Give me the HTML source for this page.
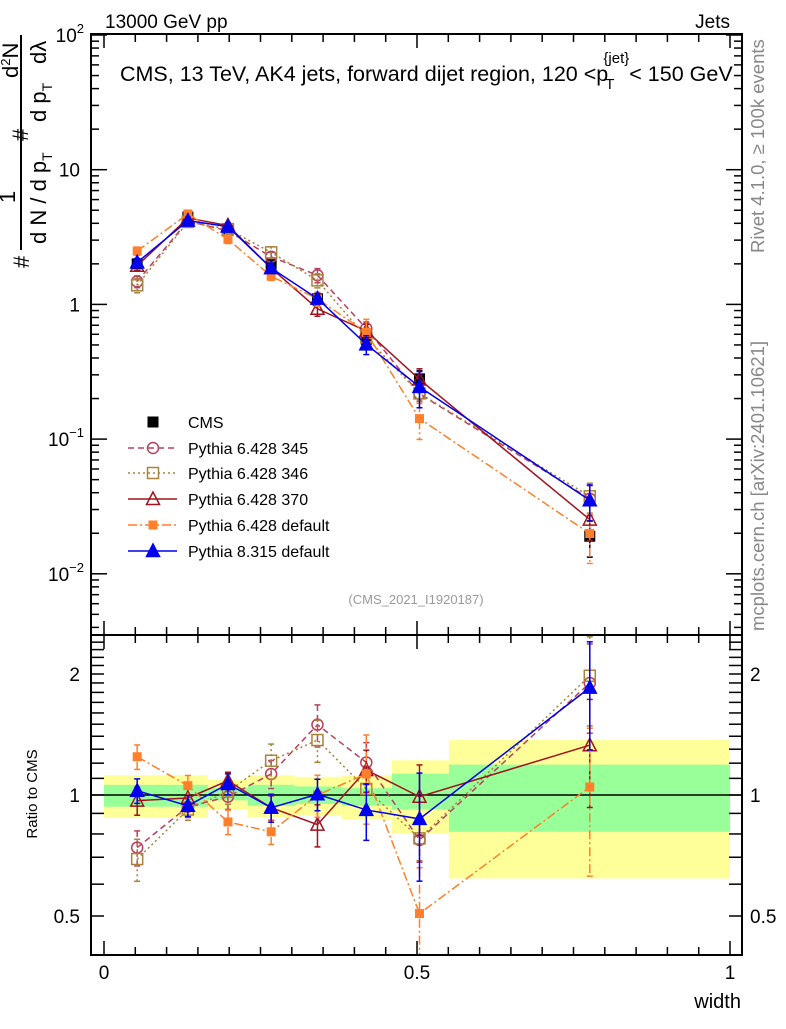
<!DOCTYPE html>
<html><head><meta charset="utf-8"><style>
body{margin:0;background:#fff;}
svg text{font-family:"Liberation Sans",sans-serif;}
</style></head><body>
<svg id="c" width="786" height="1024" xmlns="http://www.w3.org/2000/svg">
<text x="105" y="28" font-size="19">13000 GeV pp</text>
<text x="730" y="28" font-size="19" text-anchor="end">Jets</text>
<g id="plot"></g>
<text x="120" y="81" font-size="21.5">CMS, 13 TeV, AK4 jets, forward dijet region, 120 &lt;p<tspan font-size="15" dx="-3" dy="8">T</tspan><tspan font-size="15" dx="-11" dy="-26">{jet}</tspan><tspan dy="18">&lt; 150 GeV</tspan></text>
<text x="416" y="604" font-size="13" fill="#999" text-anchor="middle">(CMS_2021_I1920187)</text>
<text transform="translate(764,253) rotate(-90)" font-size="18.5" fill="#888">Rivet 4.1.0, ≥ 100k events</text>
<text transform="translate(764,631) rotate(-90)" font-size="18.5" fill="#888">mcplots.cern.ch [arXiv:2401.10621]</text>
<g font-size="22">
<line x1="21" y1="35" x2="21" y2="250" stroke="#000" stroke-width="2"/>
<text transform="translate(29,268) rotate(-90)">#</text>
<text transform="translate(15,203) rotate(-90)">1</text>
<text transform="translate(46,244) rotate(-90)">d N / d p<tspan font-size="14" dy="6">T</tspan></text>
<text transform="translate(28,141) rotate(-90)">#</text>
<text transform="translate(18,78) rotate(-90)">d<tspan font-size="13" dy="-8">2</tspan><tspan dy="8">N</tspan></text>
<text transform="translate(46,122) rotate(-90)">d p<tspan font-size="14" dy="6">T</tspan></text>
<text transform="translate(46,64) rotate(-90)">dλ</text>
</g>
<text transform="translate(37,794) rotate(-90)" font-size="15" text-anchor="middle">Ratio to CMS</text>
<text x="741" y="1008" font-size="20" text-anchor="end">width</text>
</svg>
<script>
const xs=[0.053,0.134,0.198,0.267,0.341,0.419,0.504,0.776];
const cms=[2.0,4.45,3.55,2.0,1.1,0.55,0.28,0.019];
const cmsErr=[0.06,0.04,0.05,0.06,0.08,0.12,0.15,0.3];
const binEdges=[0,0.166,0.23,0.305,0.38,0.46,0.551,1.0];
const yelHi=[1.12,1.09,1.12,1.11,1.12,1.22,1.37];
const yelLo=[0.877,0.92,0.88,0.89,0.87,0.80,0.62];
const grnHi=[1.06,1.04,1.06,1.05,1.04,1.13,1.19];
const grnLo=[0.935,0.97,0.94,0.95,0.94,0.92,0.81];
const r345=[0.74,0.935,0.99,1.128,1.496,1.205,0.773,1.9];
const r346=[0.693,0.92,1.02,1.217,1.37,1.035,0.78,1.98];
const r370=[0.968,0.983,1.085,0.93,0.844,1.154,0.99,1.33];
const rdef=[1.245,1.055,0.857,0.81,1.0,1.128,0.507,1.047];
const rp8=[1.025,0.94,1.065,0.93,1.004,0.918,0.872,1.85];
const e345=[0.1,0.06,0.07,0.08,0.12,0.12,0.12,0.25];
const e346=[0.12,0.06,0.07,0.1,0.12,0.12,0.12,0.25];
const e370=[0.08,0.06,0.05,0.07,0.12,0.12,0.2,0.3];
const edef=[0.07,0.06,0.07,0.07,0.12,0.25,0.3,0.4];
const ep8=[0.07,0.06,0.06,0.08,0.09,0.16,0.3,0.3];
const series=[
 {n:'Pythia 6.428 345',r:r345,e:e345,c:'#b8405e',d:'6,4',m:'circle'},
 {n:'Pythia 6.428 346',r:r346,e:e346,c:'#a8833a',d:'2,3',m:'osq'},
 {n:'Pythia 6.428 370',r:r370,e:e370,c:'#a0131f',d:'',m:'otri'},
 {n:'Pythia 6.428 default',r:rdef,e:edef,c:'#ff7f2a',d:'9,3,2,3',m:'fsq'},
 {n:'Pythia 8.315 default',r:rp8,e:ep8,c:'#0000ee',d:'',m:'ftri'}];
const L=91,R=742,T=34,D=635,B=955;
const X=v=>104+626*v;
const Ym=v=>35+134.7*(2-Math.log10(v));
const Yr=v=>795-121*Math.log2(v);
const NS='http://www.w3.org/2000/svg';
const g=document.getElementById('plot');
function el(t,a,p){const e=document.createElementNS(NS,t);for(const k in a)e.setAttribute(k,a[k]);(p||g).appendChild(e);return e;}
for(let i=0;i<binEdges.length-1;i++){
 const x1=X(binEdges[i]),w=X(binEdges[i+1])-x1;
 const y=el('rect',{x:x1,y:Yr(yelHi[i]),width:w,height:Yr(yelLo[i])-Yr(yelHi[i]),fill:'#ffff99'});
 
 
 const gr=el('rect',{x:x1,y:Yr(grnHi[i]),width:w,height:Yr(grnLo[i])-Yr(grnHi[i]),fill:'#99ff99'});
 
 
}
el('line',{x1:L,x2:R,y1:Yr(1),y2:Yr(1),stroke:'#000','stroke-width':1.5});
const clipM=el('clipPath',{id:'cm'});el('rect',{x:L,y:T,width:R-L,height:D-T},clipM);
const clipR=el('clipPath',{id:'cr'});el('rect',{x:L,y:D,width:R-L,height:B-D},clipR);
function marker(p,m,x,y,c,s){
 s=s||5.5;let e;
 if(m==='circle')e=el('circle',{cx:x,cy:y,r:s,fill:'none',stroke:c,'stroke-width':1.5},p);
 else if(m==='osq')e=el('rect',{x:x-s,y:y-s,width:2*s,height:2*s,fill:'none',stroke:c,'stroke-width':1.5},p);
 else if(m==='fsq')e=el('rect',{x:x-4.5,y:y-4.5,width:9,height:9,fill:c},p);
 else if(m==='bsq')e=el('rect',{x:x-5.5,y:y-5.5,width:11,height:11,fill:'#000'},p);
 else {const f=m==='ftri';e=el('polygon',{points:`${x},${y-s-1.5} ${x-s-1},${y+s} ${x+s+1},${y+s}`,fill:f?c:'none',stroke:c,'stroke-width':1.5},p);}
 return e;
}
function errbar(p,x,y1,y2,c,d){
 el('line',{x1:x,x2:x,y1:y1,y2:y2,stroke:c,'stroke-width':1.5,'stroke-dasharray':d},p);
 el('line',{x1:x-3,x2:x+3,y1:y1,y2:y1,stroke:c,'stroke-width':1.5},p);
 el('line',{x1:x-3,x2:x+3,y1:y2,y2:y2,stroke:c,'stroke-width':1.5},p);
}
['main','ratio'].forEach(panel=>{
 const pg=el('g',{'clip-path':panel==='main'?'url(#cm)':'url(#cr)'});
 
 
 const Y=panel==='main'?Ym:Yr;
 if(panel==='main'){
  const cg=el('g',{},pg);
  
  
  cms.forEach((v,i)=>{errbar(cg,X(xs[i]),Ym(v*(1+cmsErr[i])),Ym(v*(1-cmsErr[i])),'#000','');});
  cms.forEach((v,i)=>{const m=marker(cg,'bsq',X(xs[i]),Ym(v),'#000');});
 }
 series.forEach(s=>{
  const vals=s.r.map((r,i)=>panel==='main'?r*cms[i]:r);
  const sg=el('g',{},pg);
  
  
  el('polyline',{points:vals.map((v,i)=>X(xs[i])+','+Y(v)).join(' '),fill:'none',stroke:s.c,'stroke-width':1.5,'stroke-dasharray':s.d},sg);
  vals.forEach((v,i)=>{
   const lo=Math.max(v*(1-s.e[i]),1e-4);
   errbar(sg,X(xs[i]),Y(v*(1+s.e[i])),Y(lo),s.c,s.d);
   marker(sg,s.m,X(xs[i]),Y(v),s.c);
  });
 });
});
el('rect',{x:L,y:T,width:R-L,height:B-T,fill:'none',stroke:'#000','stroke-width':2});
el('line',{x1:L,x2:R,y1:D,y2:D,stroke:'#000','stroke-width':2});
for(let k=0;k<=20;k++){const v=k*0.05,x=X(v),len=(k%10===0)?14:8;
 [[B,-1],[D,-1],[D,1],[T,1]].forEach(([y0,dir])=>el('line',{x1:x,x2:x,y1:y0,y2:y0+dir*len,stroke:'#000','stroke-width':1.5}));}
const xtl=['0','0.5','1'],xtv=[0,0.5,1];
xtv.forEach((v,i)=>{const t=el('text',{x:X(v),y:979,'font-size':19,'text-anchor':'middle'});t.textContent=xtl[i];});
for(let dec=-3;dec<=2;dec++){for(let m=1;m<10;m++){const v=m*Math.pow(10,dec),y=Ym(v);if(y<T||y>D)continue;const len=m===1?16:8;
 el('line',{x1:L,x2:L+len,y1:y,y2:y,stroke:'#000','stroke-width':1.5});el('line',{x1:R,x2:R-len,y1:y,y2:y,stroke:'#000','stroke-width':1.5});}}
const mtl=[['10','2'],['10',''],['1',''],['10','−1'],['10','−2']],mtv=[100,10,1,0.1,0.01];
mtv.forEach((v,i)=>{const t=el('text',{x:80,y:Ym(v)+7,'font-size':19,'text-anchor':'end'});
 t.textContent=mtl[i][0];if(mtl[i][1]){const s=el('tspan',{'font-size':13,dy:-9},t);s.textContent=mtl[i][1];t.setAttribute('x',84);}});
const rmin=[0.4,0.5,0.6,0.7,0.8,0.9,1,1.1,1.2,1.3,1.4,1.5,1.6,1.7,1.8,1.9,2,2.1,2.2,2.3,2.4,2.5];
rmin.forEach(v=>{const y=Yr(v);if(y<D||y>B)return;const len=13;
 el('line',{x1:L,x2:L+len,y1:y,y2:y,stroke:'#000','stroke-width':1.5});el('line',{x1:R,x2:R-len,y1:y,y2:y,stroke:'#000','stroke-width':1.5});});
const rtl=['2','1','0.5'],rtv=[2,1,0.5];
rtv.forEach((v,i)=>{[[80,'end'],[750,'start']].forEach(([x,a])=>{const t=el('text',{x:x,y:Yr(v)+7,'font-size':19,'text-anchor':a});t.textContent=rtl[i];});});
const lg=el('g',{});


const ly=[422,448,473,499,525,551];
marker(lg,'bsq',153,ly[0],'#000');
let t0=el('text',{x:188,y:ly[0]+6,'font-size':16},lg);t0.textContent='CMS';
series.forEach((s,i)=>{const y=ly[i+1];
 const e=el('g',{},lg);
 
 
 el('line',{x1:128,x2:177,y1:y,y2:y,stroke:s.c,'stroke-width':1.5,'stroke-dasharray':s.d},e);
 marker(e,s.m,153,y,s.c);
 const t=el('text',{x:188,y:y+6,'font-size':16},e);t.textContent=s.n;});
</script>
</body></html>
